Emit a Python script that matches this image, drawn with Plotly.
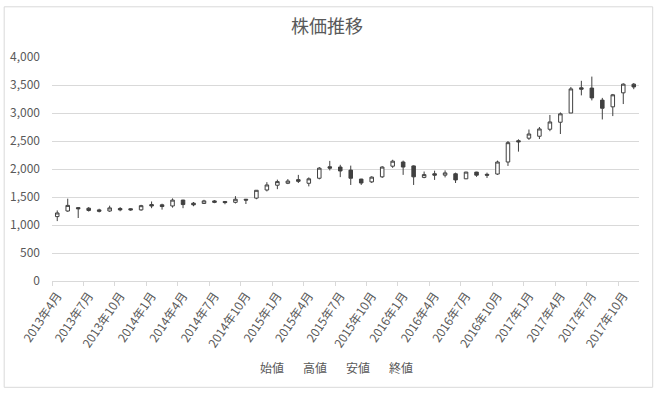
import plotly.graph_objects as go

# Monthly candles, Apr 2013 .. Nov 2017
months = [f"{y}年{m}月" for y in range(2013, 2018) for m in range(1, 13)][3:3 + 56]

open_ = [1150, 1250, 1310, 1300, 1270, 1250, 1295, 1290, 1270, 1365,
         1360, 1340, 1445, 1390, 1385, 1430, 1420, 1405, 1460, 1480,
         1625, 1710, 1745, 1810, 1745, 1835, 2040, 2035, 1980, 1820,
         1770, 1860, 2050, 2125, 2055, 1850, 1915, 1890, 1915, 1825,
         1945, 1905, 1910, 2125, 2505, 2550, 2585, 2710, 2835, 3000,
         3450, 3445, 3230, 3110, 3360, 3515]
high = [1260, 1470, 1320, 1320, 1290, 1345, 1320, 1300, 1360, 1420,
        1380, 1475, 1450, 1410, 1450, 1445, 1425, 1515, 1465, 1625,
        1765, 1810, 1820, 1895, 1850, 2035, 2145, 2075, 2060, 1825,
        1870, 2050, 2165, 2150, 2065, 1955, 1970, 1975, 1935, 1950,
        1950, 1935, 2150, 2500, 2530, 2705, 2750, 2965, 3010, 3465,
        3575, 3650, 3270, 3340, 3530, 3535]
low = [1070, 1235, 1125, 1240, 1225, 1235, 1245, 1255, 1255, 1300,
       1275, 1310, 1300, 1335, 1375, 1390, 1370, 1385, 1375, 1460,
       1600, 1640, 1730, 1750, 1690, 1815, 1975, 1855, 1715, 1715,
       1750, 1840, 2020, 1895, 1715, 1835, 1805, 1850, 1750, 1820,
       1860, 1840, 1895, 2055, 2310, 2520, 2535, 2675, 2625, 3000,
       3315, 3225, 2885, 2945, 3160, 3425]
close = [1215, 1350, 1290, 1260, 1245, 1305, 1270, 1270, 1345, 1340,
         1330, 1445, 1365, 1360, 1430, 1405, 1400, 1460, 1445, 1620,
         1715, 1775, 1785, 1780, 1825, 2015, 2015, 1965, 1835, 1750,
         1855, 2035, 2140, 2035, 1860, 1900, 1890, 1930, 1805, 1945,
         1890, 1890, 2125, 2470, 2485, 2625, 2715, 2840, 2985, 3430,
         3425, 3270, 3085, 3325, 3515, 3465]

legend_names = ["始値", "高値", "安値", "終値"]
y_ticks = [0, 500, 1000, 1500, 2000, 2500, 3000, 3500, 4000]

x = list(range(len(months)))
label_pos = list(range(0, len(months), 3))
tick_txt = [months[i] for i in label_pos]
boundary_pos = [i - 0.5 for i in label_pos]

FONT = "Noto Sans CJK JP"
GREY = "#595959"
DARK = "#404040"

fig = go.Figure()
fig.add_trace(go.Candlestick(
    x=x, open=open_, high=high, low=low, close=close,
    increasing=dict(line=dict(color=DARK, width=1), fillcolor="#ffffff"),
    decreasing=dict(line=dict(color=DARK, width=1), fillcolor=DARK),
    whiskerwidth=0, showlegend=False, hoverinfo="x+y"))

# plot area in pixels: x 52.3..639.3, y 56.7..280.7
L, R, T, B = 52.3, 639.3, 56.7, 280.7
W, H = R - L, B - T
def px(xp):
    return (xp - L) / W
def py(yp):
    return (B - yp) / H

annotations = []
for name, cx in zip(legend_names, [272.5, 315.0, 358.7, 401.3]):
    annotations.append(dict(text=name, x=px(cx), y=py(367.5), xref="paper", yref="paper",
                            showarrow=False, xanchor="center", yanchor="middle",
                            font=dict(family=FONT, size=12, color=GREY)))

fig.update_layout(
    width=665, height=393,
    margin=dict(l=L, r=665 - R, t=T, b=393 - B, autoexpand=False),
    paper_bgcolor="white", plot_bgcolor="white",
    title=dict(text="株価推移", x=327 / 665, xanchor="center", y=1 - 26.5 / 393, yanchor="middle",
               font=dict(family=FONT, size=18, color=GREY)),
    boxgap=0.52,
    xaxis=dict(range=[-0.5, len(months) - 0.5], tickmode="array", tickvals=label_pos, ticktext=tick_txt,
               tickangle=-56, showgrid=False, zeroline=False, showline=True, linecolor="#d9d9d9",
               linewidth=1, ticks="", ticklabelstandoff=2,
               minor=dict(tickmode="array", tickvals=boundary_pos, ticks="outside", ticklen=4,
                          tickcolor="#d9d9d9", showgrid=False),
               rangeslider=dict(visible=False),
               tickfont=dict(family=FONT, size=12, color=GREY)),
    yaxis=dict(range=[0, 4000], tickvals=y_ticks, tickformat=",d", showgrid=True, gridcolor="#d9d9d9",
               gridwidth=1, zeroline=False, showline=False, ticks="", ticklabelstandoff=11,
               tickfont=dict(family=FONT, size=12, color=GREY)),
    annotations=annotations,
    shapes=[dict(type="rect", xref="paper", yref="paper", x0=px(4.5), x1=px(653), y0=py(387), y1=py(6.5),
                 line=dict(color="#d9d9d9", width=1), layer="below")],
    font=dict(family=FONT, color=GREY),
)

fig.write_html("out.html", config={"displayModeBar": False},
               post_script="document.body.style.margin='0';document.body.style.overflow='hidden';")
